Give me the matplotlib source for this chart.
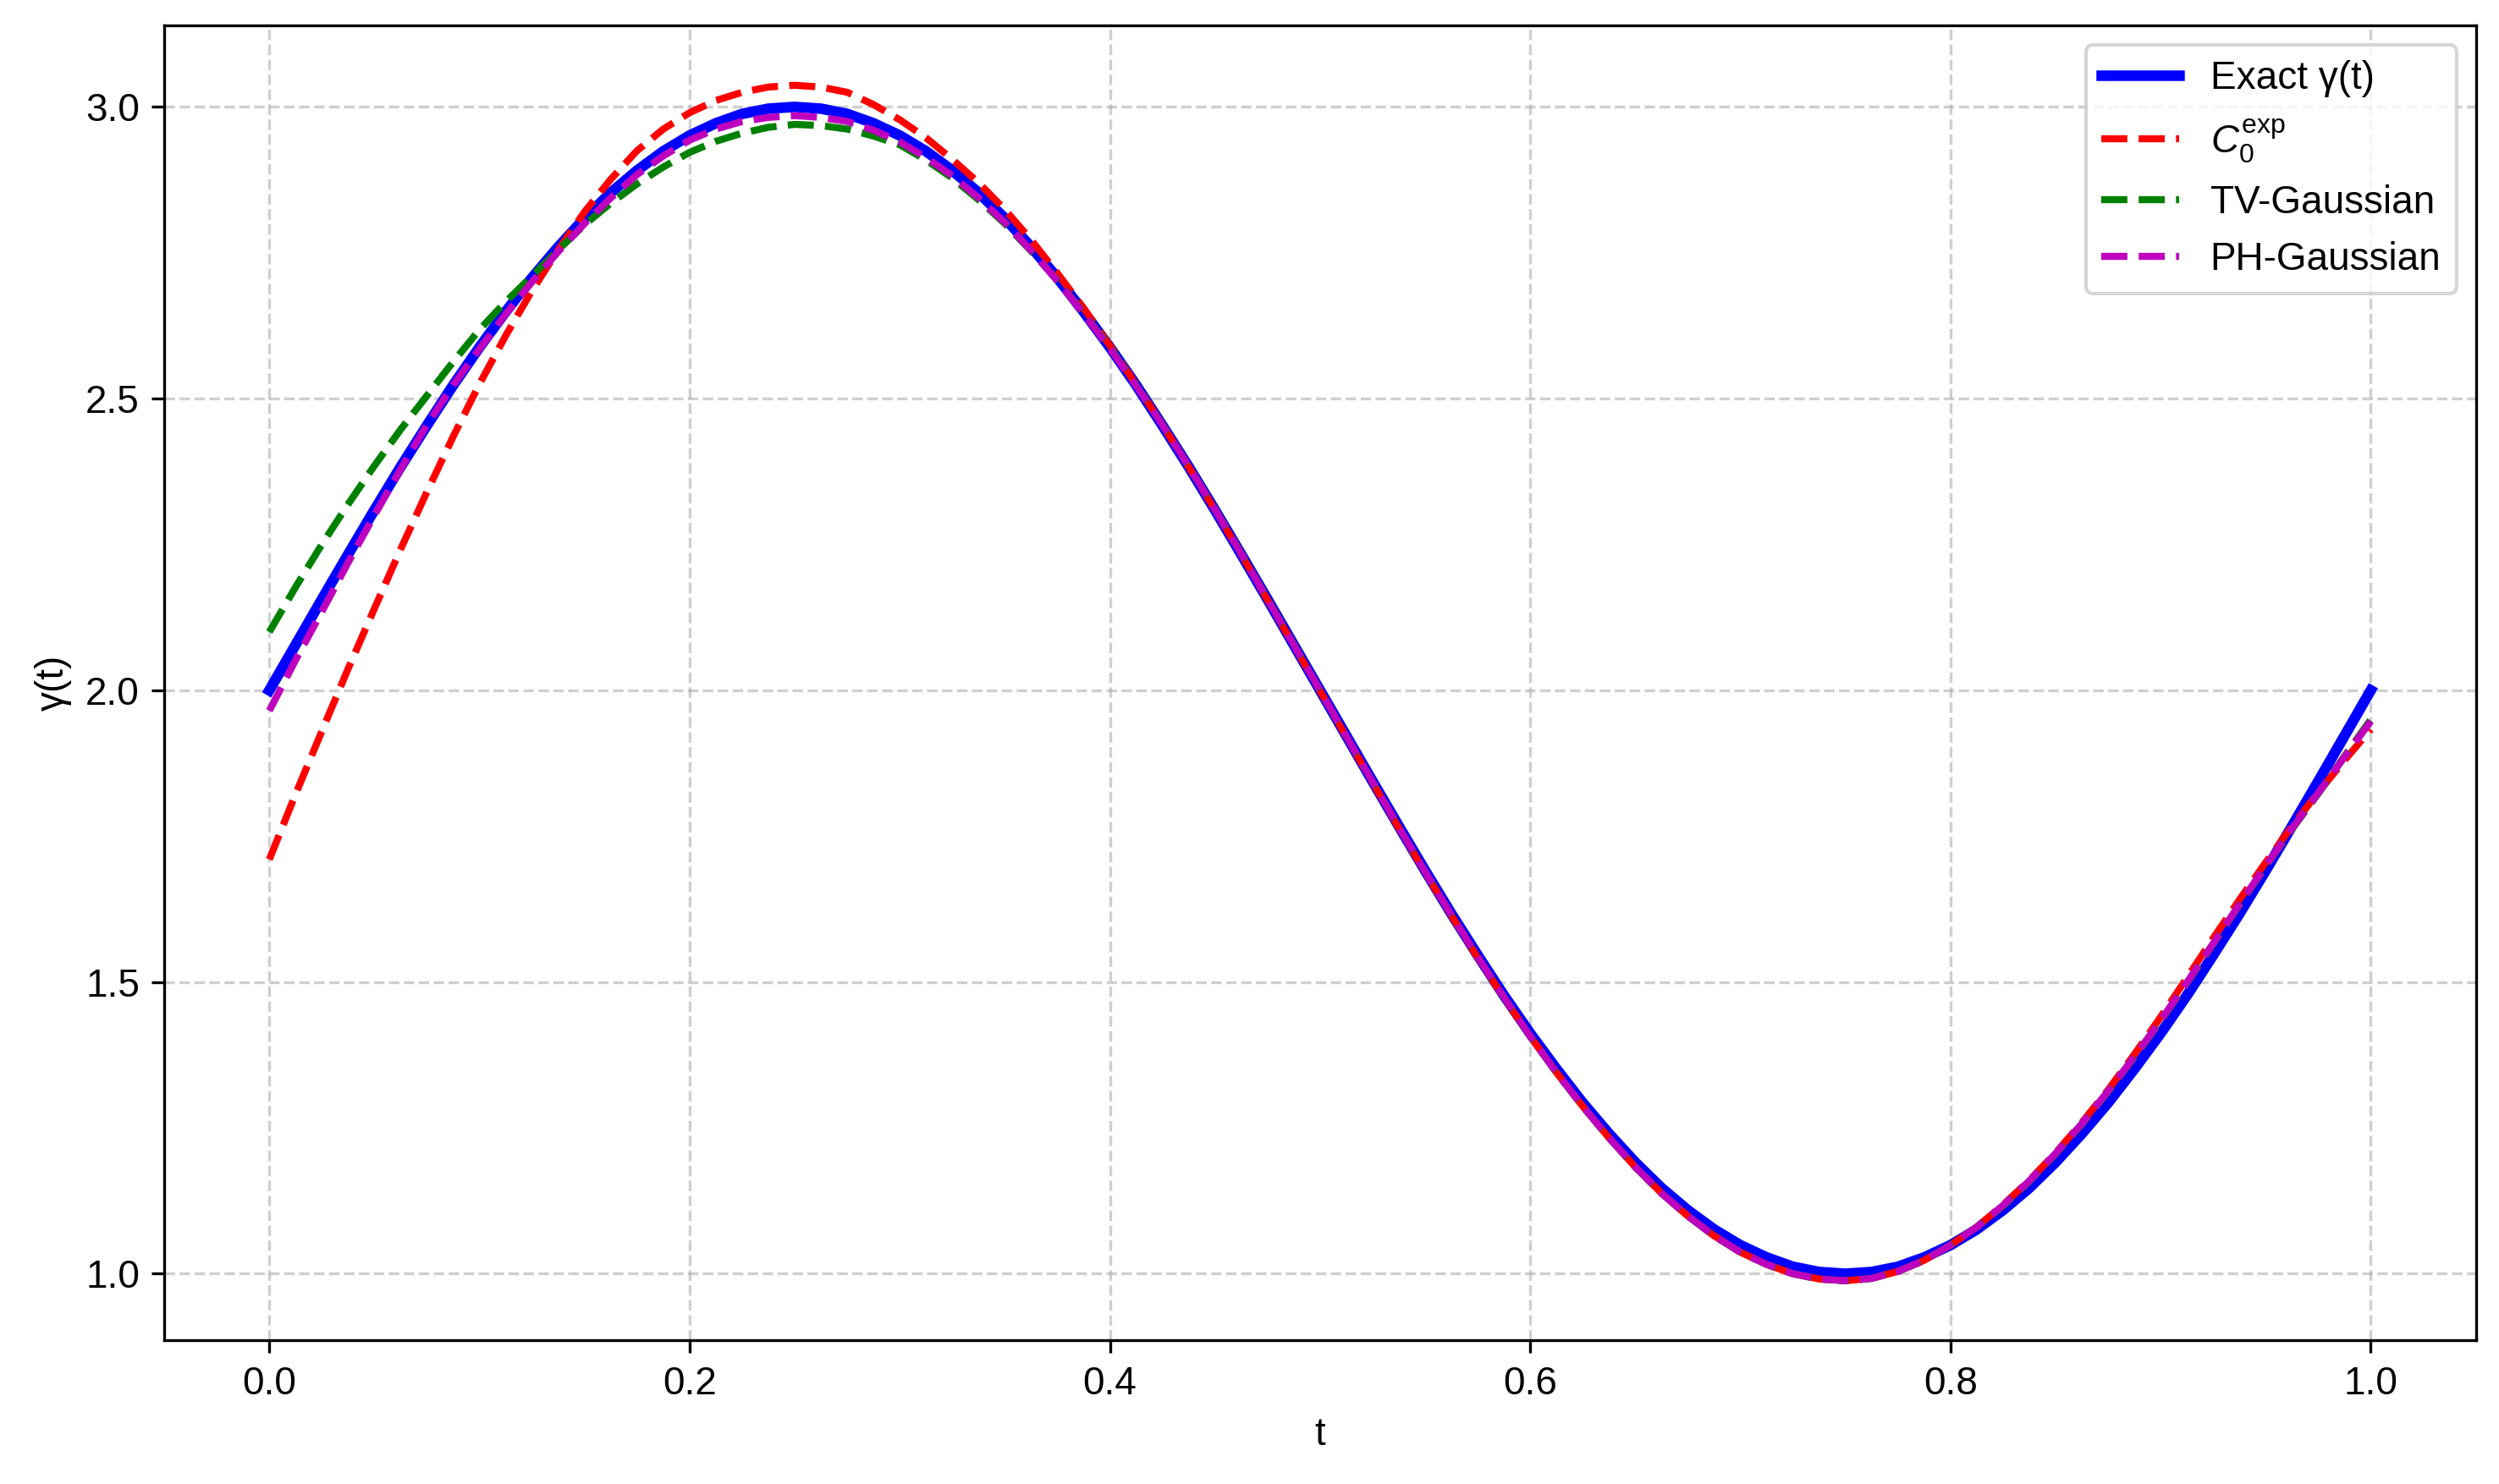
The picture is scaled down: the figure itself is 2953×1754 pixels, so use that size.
import numpy as np
import matplotlib
matplotlib.use("Agg")
import matplotlib.pyplot as plt

plt.rcParams['font.family'] = ['Liberation Sans', 'DejaVu Sans']
plt.rcParams['font.size'] = 11
plt.rcParams['mathtext.fontset'] = 'custom'
plt.rcParams['mathtext.rm'] = 'Liberation Sans'
plt.rcParams['mathtext.it'] = 'Liberation Sans:italic'

t = np.linspace(0.0, 1.0, 81)

exact = [2.000, 2.078, 2.156, 2.233, 2.309, 2.383, 2.454, 2.523, 2.588, 2.649,
         2.707, 2.760, 2.809, 2.853, 2.891, 2.924, 2.951, 2.972, 2.988, 2.997,
         3.000, 2.997, 2.988, 2.972, 2.951, 2.924, 2.891, 2.853, 2.809, 2.760,
         2.707, 2.649, 2.588, 2.523, 2.454, 2.383, 2.309, 2.233, 2.156, 2.078,
         2.000, 1.922, 1.844, 1.767, 1.691, 1.617, 1.546, 1.477, 1.412, 1.351,
         1.293, 1.240, 1.191, 1.147, 1.109, 1.076, 1.049, 1.028, 1.012, 1.003,
         1.000, 1.003, 1.012, 1.028, 1.049, 1.076, 1.109, 1.147, 1.191, 1.240,
         1.293, 1.351, 1.412, 1.477, 1.546, 1.617, 1.691, 1.767, 1.844, 1.922,
         2.000]

c0_exp = [1.710, 1.822, 1.930, 2.037, 2.140, 2.242, 2.340, 2.435, 2.525, 2.608,
          2.685, 2.755, 2.820, 2.876, 2.925, 2.962, 2.990, 3.011, 3.025, 3.034,
          3.037, 3.034, 3.025, 3.004, 2.978, 2.947, 2.910, 2.870, 2.824, 2.772,
          2.715, 2.655, 2.591, 2.524, 2.455, 2.383, 2.309, 2.233, 2.155, 2.077,
          1.999, 1.920, 1.842, 1.764, 1.688, 1.614, 1.542, 1.473, 1.407, 1.345,
          1.287, 1.233, 1.183, 1.138, 1.099, 1.065, 1.037, 1.016, 1.000, 0.991,
          0.988, 0.992, 1.004, 1.023, 1.049, 1.080, 1.118, 1.160, 1.207, 1.259,
          1.315, 1.376, 1.440, 1.507, 1.575, 1.641, 1.705, 1.767, 1.825, 1.880,
          1.933]

tv_gauss = [2.100, 2.177, 2.250, 2.319, 2.385, 2.447, 2.505, 2.563, 2.618, 2.666,
            2.710, 2.755, 2.798, 2.835, 2.868, 2.897, 2.922, 2.941, 2.955, 2.965,
            2.970, 2.968, 2.962, 2.950, 2.935, 2.909, 2.878, 2.841, 2.800, 2.753,
            2.703, 2.647, 2.588, 2.523, 2.456, 2.384, 2.311, 2.235, 2.157, 2.079,
            2.000, 1.921, 1.843, 1.765, 1.689, 1.615, 1.543, 1.474, 1.407, 1.345,
            1.287, 1.233, 1.183, 1.138, 1.099, 1.065, 1.037, 1.016, 1.000, 0.991,
            0.988, 0.992, 1.004, 1.023, 1.049, 1.080, 1.116, 1.158, 1.205, 1.256,
            1.312, 1.371, 1.433, 1.498, 1.565, 1.632, 1.698, 1.762, 1.823, 1.887,
            1.950]

ph_gauss = [1.965, 2.052, 2.135, 2.219, 2.300, 2.379, 2.455, 2.523, 2.585, 2.645,
            2.700, 2.752, 2.800, 2.844, 2.884, 2.916, 2.943, 2.962, 2.975, 2.982,
            2.985, 2.982, 2.975, 2.960, 2.940, 2.913, 2.882, 2.844, 2.802, 2.754,
            2.702, 2.646, 2.586, 2.522, 2.455, 2.384, 2.310, 2.234, 2.156, 2.078,
            2.000, 1.921, 1.843, 1.765, 1.689, 1.615, 1.543, 1.474, 1.407, 1.345,
            1.287, 1.233, 1.183, 1.138, 1.099, 1.065, 1.037, 1.016, 1.000, 0.991,
            0.988, 0.992, 1.004, 1.023, 1.049, 1.080, 1.117, 1.159, 1.206, 1.257,
            1.313, 1.372, 1.434, 1.499, 1.566, 1.633, 1.699, 1.763, 1.824, 1.886,
            1.947]

fig, ax = plt.subplots(figsize=(2954 / 300, 1754 / 300), dpi=300)
fig.subplots_adjust(left=0.0657, right=0.9904, top=0.9828, bottom=0.0967)

ax.plot(t, exact, 'b-', linewidth=3, label='Exact γ(t)')
ax.plot(t, c0_exp, 'r--', linewidth=2, label=r'$C_0^{\mathrm{exp}}$')
ax.plot(t, tv_gauss, 'g--', linewidth=2, label='TV-Gaussian')
ax.plot(t, ph_gauss, 'm--', linewidth=2, label='PH-Gaussian')

ax.set_xlabel('t')
ax.set_ylabel('γ(t)')
ax.grid(True, linestyle='--', alpha=0.6)
ax.legend(loc='upper right')

fig.savefig('out.png', dpi=300)
